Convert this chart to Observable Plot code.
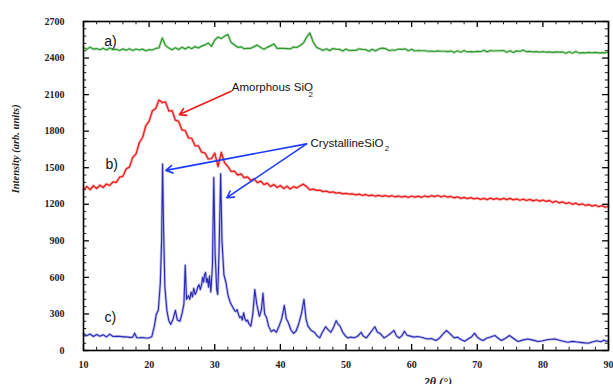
<!DOCTYPE html>
<html>
<head>
<meta charset="utf-8">
<script src="https://cdn.jsdelivr.net/npm/d3@7"></script>
<script src="https://cdn.jsdelivr.net/npm/@observablehq/plot@0.6"></script>
<style>
  html, body { margin: 0; padding: 0; background: white; }
  #chart { width: 613px; height: 384px; overflow: hidden; }
</style>
</head>
<body>
<div id="chart"></div>
<script>
// ---- Tick values ----
const xTicks = [10, 20, 30, 40, 50, 60, 70, 80, 90];
const xMinor = [12,14,16,18,22,24,26,28,32,34,36,38,42,44,46,48,52,54,56,58,62,64,66,68,72,74,76,78,82,84,86,88];
const yTicks = [0, 300, 600, 900, 1200, 1500, 1800, 2100, 2400, 2700];
const yMinor = [60,120,180,240,360,420,480,540,660,720,780,840,960,1020,1080,1140,1260,1320,1380,1440,1560,1620,1680,1740,1860,1920,1980,2040,2160,2220,2280,2340,2460,2520,2580,2640];

// ---- Series a) (green) [2θ, intensity] ----
const seriesA = [
[10,2486],[10.5,2472],[11,2489],[11.5,2474],[12,2478],[12.5,2468],[13,2481],[13.5,2466],[14,2483],[14.5,2469],
[15,2472],[15.5,2462],[16,2475],[16.5,2464],[17,2476],[17.5,2462],[18,2474],[18.5,2466],[19,2473],[19.5,2460],
[20,2469],[20.5,2466],[21,2479],[21.5,2484],[22,2565],[22.5,2502],[23,2482],[23.5,2468],[24,2484],[24.5,2470],
[25,2488],[25.5,2474],[26,2491],[26.5,2477],[27,2494],[27.5,2482],[28,2498],[28.5,2508],[29,2524],[29.5,2496],
[30,2548],[30.5,2572],[31,2560],[31.5,2580],[32,2594],[32.5,2528],[33,2508],[33.5,2488],[34,2492],[34.5,2477],
[35,2480],[35.5,2480],[36,2494],[36.5,2506],[37,2486],[37.5,2472],[38,2488],[38.5,2500],[39,2516],[39.5,2480],
[40,2480],[40.5,2479],[41,2478],[41.5,2475],[42,2490],[42.5,2487],[43,2504],[43.5,2522],[44,2572],[44.5,2606],
[45,2532],[45.5,2488],[46,2476],[46.5,2462],[47,2476],[47.5,2461],[48,2478],[48.5,2474],[49,2472],[49.5,2458],
[50,2474],[50.5,2462],[51,2464],[51.5,2463],[52,2476],[52.5,2471],[53,2470],[53.5,2456],[54,2472],[54.5,2459],
[55,2474],[55.5,2482],[56,2478],[56.5,2462],[57,2466],[57.5,2464],[58,2474],[58.5,2472],[59,2476],[59.5,2460],
[60,2472],[60.5,2458],[61,2462],[61.5,2460],[62,2460],[62.5,2456],[63,2457],[63.5,2454],[64,2459],[64.5,2456],
[65,2456],[65.5,2453],[66,2458],[66.5,2446],[67,2460],[67.5,2448],[68,2462],[68.5,2450],[69,2453],[69.5,2451],
[70,2455],[70.5,2452],[71,2464],[71.5,2451],[72,2462],[72.5,2458],[73,2460],[73.5,2460],[74,2462],[74.5,2448],
[75,2460],[75.5,2446],[76,2459],[76.5,2454],[77,2466],[77.5,2452],[78,2455],[78.5,2451],[79,2453],[79.5,2449],
[80,2452],[80.5,2448],[81,2450],[81.5,2446],[82,2451],[82.5,2448],[83,2450],[83.5,2439],[84,2452],[84.5,2440],
[85,2454],[85.5,2441],[86,2445],[86.5,2442],[87,2447],[87.5,2443],[88,2446],[88.5,2442],[89,2445],[89.5,2443],[90,2448]
];

// ---- Series b) (red) ----
const seriesB = [
[10,1322],[10.5,1346],[11,1320],[11.5,1352],[12,1330],[12.5,1356],[13,1338],[13.5,1366],[14,1355],[14.5,1384],
[15,1380],[15.5,1422],[16,1430],[16.5,1490],[17,1505],[17.5,1585],[18,1612],[18.5,1705],[19,1748],[19.5,1845],
[20,1882],[20.5,1968],[21,1985],[21.5,2055],[22,2035],[22.5,2040],[23,1965],[23.5,1968],[24,1890],[24.5,1880],
[25,1810],[25.5,1805],[26,1745],[26.5,1740],[27,1680],[27.5,1680],[28,1628],[28.5,1622],[29,1572],[29.5,1575],
[30,1620],[30.5,1510],[31,1625],[31.5,1540],[32,1510],[32.5,1470],[33,1472],[33.5,1440],[34,1450],[34.5,1418],
[35,1424],[35.5,1395],[36,1408],[36.5,1378],[37,1390],[37.5,1362],[38,1374],[38.5,1345],[39,1362],[39.5,1338],
[40,1354],[40.5,1330],[41,1348],[41.5,1326],[42,1344],[42.5,1334],[43,1352],[43.5,1365],[44,1345],[44.5,1318],
[45,1324],[45.5,1314],[46,1316],[46.5,1304],[47,1308],[47.5,1298],[48,1302],[48.5,1292],[49,1296],[49.5,1286],
[50,1290],[50.5,1284],[51,1286],[51.5,1278],[52,1283],[52.5,1274],[53,1280],[53.5,1270],[54,1276],[54.5,1266],
[55,1274],[55.5,1264],[56,1272],[56.5,1262],[57,1270],[57.5,1260],[58,1268],[58.5,1258],[59,1266],[59.5,1256],
[60,1268],[60.5,1258],[61,1266],[61.5,1257],[62,1268],[62.5,1260],[63,1270],[63.5,1262],[64,1272],[64.5,1260],
[65,1270],[65.5,1258],[66,1264],[66.5,1252],[67,1260],[67.5,1248],[68,1256],[68.5,1246],[69,1254],[69.5,1244],
[70,1250],[70.5,1240],[71,1248],[71.5,1239],[72,1250],[72.5,1240],[73,1248],[73.5,1238],[74,1249],[74.5,1239],
[75,1248],[75.5,1236],[76,1244],[76.5,1233],[77,1242],[77.5,1231],[78,1240],[78.5,1228],[79,1237],[79.5,1226],
[80,1235],[80.5,1224],[81,1231],[81.5,1215],[82,1225],[82.5,1212],[83,1220],[83.5,1206],[84,1214],[84.5,1200],
[85,1209],[85.5,1196],[86,1204],[86.5,1190],[87,1198],[87.5,1185],[88,1194],[88.5,1180],[89,1189],[89.5,1176],[90,1182]
];

// ---- Series c) (blue) ----
const seriesC = [
[10,139],[10.5,122],[11,135],[11.5,115],[12,131],[12.5,117],[13,129],[13.5,112],[14,134],[14.5,115],
[15,116],[15.5,117],[16,112],[16.5,113],[17,108],[17.5,110],[17.8,142],[18.1,106],[18.5,104],[19,107],
[19.5,102],[20,104],[20.4,112],[20.8,200],[21.1,300],[21.4,330],[21.7,550],[21.9,900],[22.05,1530],[22.2,1000],
[22.4,520],[22.7,330],[23,245],[23.3,215],[23.6,250],[24,330],[24.3,250],[24.7,240],[25,300],[25.3,380],
[25.5,700],[25.7,420],[26,450],[26.2,420],[26.4,480],[26.6,440],[26.8,510],[27,460],[27.2,480],[27.4,520],
[27.6,540],[27.8,500],[28,540],[28.15,600],[28.3,560],[28.45,620],[28.6,640],[28.75,560],[28.9,590],[29.05,520],
[29.2,610],[29.4,480],[29.65,700],[29.85,1420],[30.05,800],[30.3,500],[30.45,460],[30.65,800],[30.9,1450],
[31.1,900],[31.4,620],[31.7,560],[32,460],[32.2,420],[32.4,390],[32.6,370],[32.8,350],[33,330],[33.2,320],[33.4,335],
[33.6,300],[33.8,270],[34,280],[34.2,250],[34.4,310],[34.6,260],[34.8,240],[35,250],[35.2,220],[35.5,200],[35.8,300],
[36.1,500],[36.4,380],[36.8,280],[37.1,330],[37.35,470],[37.6,300],[37.9,270],[38.2,200],[38.6,155],[39,170],
[39.4,150],[39.8,200],[40.2,260],[40.6,370],[40.9,260],[41.2,230],[41.6,170],[42,140],[42.4,160],[42.8,220],
[43.2,300],[43.6,420],[43.9,260],[44.2,200],[44.7,164],[45.2,150],[45.6,120],[46,105],[46.4,150],[46.9,195],
[47.3,170],[47.7,150],[48.1,190],[48.5,245],[48.8,215],[49.1,200],[49.5,150],[49.9,120],[50.3,103],[50.7,110],
[51.2,105],[51.7,115],[52,130],[52.3,150],[52.6,120],[53.1,103],[53.5,130],[53.9,160],[54.4,195],[54.8,150],
[55.2,140],[55.8,103],[56.3,120],[56.8,140],[57.3,165],[57.7,120],[58.1,103],[58.5,120],[58.9,158],[59.3,125],
[59.8,118],[60.3,110],[60.9,115],[61.5,109],[62,100],[62.5,95],[63,98],[63.7,82],[64.2,100],[64.7,130],
[65.3,164],[65.8,140],[66.5,103],[67,110],[67.5,90],[68.1,76],[68.6,95],[69.1,110],[69.6,142],[70,110],
[70.5,90],[70.9,82],[71.4,100],[72,110],[72.7,123],[73.2,100],[73.7,82],[74.3,100],[74.9,123],[75.5,100],
[76.2,74],[76.9,85],[77.7,95],[78.5,85],[79.3,74],[80,80],[80.8,90],[81.8,95],[82.8,80],[83.8,68],
[84.5,75],[85.2,70],[86,65],[86.9,60],[87.5,70],[88.2,80],[88.8,72],[89.3,85],[89.7,76],[90,80]
];

// ---- Annotations (data coordinates) ----
const curveLabels = [
  {text: "a)", x: 14.1, y: 2537},
  {text: "b)", x: 14.3, y: 1528},
  {text: "c)", x: 14.1, y: 270}
];
const amorphousText = [{text: "Amorphous SiO", x: 32.6, y: 2160}];
const amorphousSub = [{text: "2", x: 44.3, y: 2105}];
const crystalText = [{text: "CrystallineSiO", x: 44.6, y: 1702}];
const crystalSub = [{text: "2", x: 55.9, y: 1655}];
const redArrows = [{x1: 32.5, y1: 2127, x2: 24.6, y2: 1936}];
const blueArrows = [
  {x1: 44.0, y1: 1696, x2: 22.55, y2: 1478},
  {x1: 44.0, y1: 1696, x2: 31.85, y2: 1254}
];
const xTitle = [{text: "2θ (°)", x: 64}];
const yTitle = [{text: "Intensity (arb. units)", y: 1290}];

const serif = "'Liberation Serif', 'Times New Roman', serif";
const sans = "'Liberation Sans', Arial, sans-serif";

const lineMarks = (data, color, w) => [
  Plot.line(data, {x: d => d[0], y: d => d[1], stroke: color, strokeWidth: w + 1.6, strokeOpacity: 0.3}),
  Plot.line(data, {x: d => d[0], y: d => d[1], stroke: color, strokeWidth: w})
];

const plot = Plot.plot({
  width: 613,
  height: 384,
  marginLeft: 83,
  marginRight: 5,
  marginTop: 21,
  marginBottom: 34,
  x: {domain: [10, 90]},
  y: {domain: [0, 2700]},
  style: {background: "white", overflow: "visible"},
  marks: [
    Plot.axisY({ticks: yTicks, tickSize: 0, tickPadding: 19, tickFormat: d => String(d), fontFamily: serif, fontWeight: "bold", fontSize: 10, label: null, fill: "#222"}),
    Plot.axisX({ticks: xTicks, tickSize: 0, tickPadding: 10, tickFormat: d => String(d), fontFamily: serif, fontWeight: "bold", fontSize: 10, label: null, fill: "#222"}),
    // inward ticks, all four sides
    Plot.ruleY(yTicks, {y: d => d, x1: 10, x2: 10.9, stroke: "black", strokeWidth: 1.3}),
    Plot.ruleY(yTicks, {y: d => d, x1: 89.1, x2: 90, stroke: "black", strokeWidth: 1.3}),
    Plot.ruleY(yMinor, {y: d => d, x1: 10, x2: 10.5, stroke: "black", strokeWidth: 0.9}),
    Plot.ruleY(yMinor, {y: d => d, x1: 89.5, x2: 90, stroke: "black", strokeWidth: 0.9}),
    Plot.ruleX(xTicks, {x: d => d, y1: 0, y2: 50, stroke: "black", strokeWidth: 1.3}),
    Plot.ruleX(xTicks, {x: d => d, y1: 2650, y2: 2700, stroke: "black", strokeWidth: 1.3}),
    Plot.ruleX(xMinor, {x: d => d, y1: 0, y2: 27, stroke: "black", strokeWidth: 0.9}),
    Plot.ruleX(xMinor, {x: d => d, y1: 2673, y2: 2700, stroke: "black", strokeWidth: 0.9}),
    // series
    ...lineMarks(seriesA, "#2e9a2e", 1.2),
    ...lineMarks(seriesB, "#ec1c1c", 1.3),
    ...lineMarks(seriesC, "#2a2ab8", 1.1),
    // curve labels
    Plot.text(curveLabels, {x: "x", y: "y", text: "text", fontFamily: sans, fontSize: 14, fill: "#111"}),
    // annotations
    Plot.text(amorphousText, {x: "x", y: "y", text: "text", textAnchor: "start", fontFamily: sans, fontSize: 11.5, fill: "#111"}),
    Plot.text(amorphousSub, {x: "x", y: "y", text: "text", textAnchor: "start", fontFamily: sans, fontSize: 8, fill: "#111"}),
    Plot.text(crystalText, {x: "x", y: "y", text: "text", textAnchor: "start", fontFamily: sans, fontSize: 11.5, fill: "#111"}),
    Plot.text(crystalSub, {x: "x", y: "y", text: "text", textAnchor: "start", fontFamily: sans, fontSize: 8, fill: "#111"}),
    Plot.arrow(redArrows, {x1: "x1", y1: "y1", x2: "x2", y2: "y2", stroke: "#f01818", strokeWidth: 1.6, headLength: 7}),
    Plot.arrow(blueArrows, {x1: "x1", y1: "y1", x2: "x2", y2: "y2", stroke: "#1e3cff", strokeWidth: 1.6, headLength: 7}),
    // axis titles
    Plot.text(xTitle, {x: "x", text: "text", frameAnchor: "bottom", dy: 35, fontFamily: serif, fontWeight: "bold", fontStyle: "italic", fontSize: 12, fill: "#222"}),
    Plot.text(yTitle, {y: "y", text: "text", frameAnchor: "left", dx: -68, rotate: -90, fontFamily: serif, fontWeight: "bold", fontStyle: "italic", fontSize: 10.5, fill: "#222"}),
    Plot.frame({stroke: "black", strokeWidth: 1.6})
  ]
});
document.getElementById("chart").appendChild(plot);
</script>
</body>
</html>
